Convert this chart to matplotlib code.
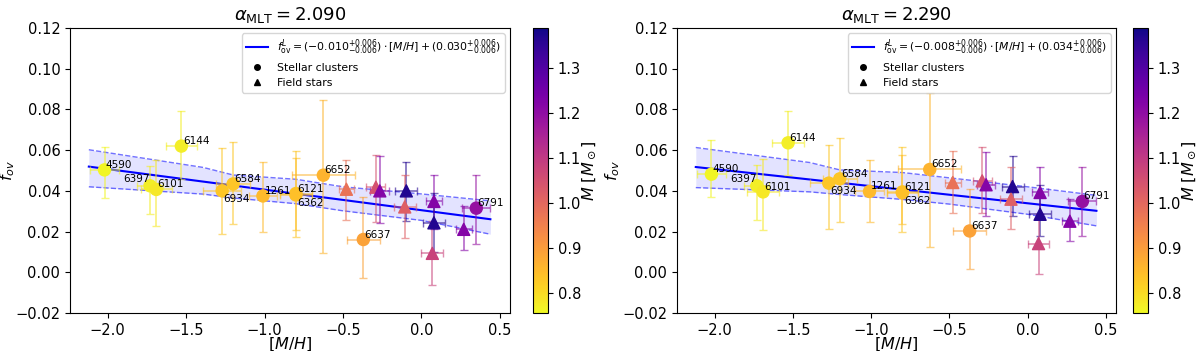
import matplotlib.pyplot as plt
import numpy as np
from matplotlib.colors import Normalize
from matplotlib.lines import Line2D

# Data
# stellar clusters
cl_names = ["4590", "6397", "6101", "6144", "6934", "6584", "1261", "6121", "6362", "6652", "6637", "6791"]
cl_mh = [-2.02, -1.73, -1.69, -1.53, -1.27, -1.20, -1.01, -0.80, -0.80, -0.625, -0.37, 0.35]
cl_mh_err = [0.09, 0.08, 0.10, 0.10, 0.12, 0.11, 0.09, 0.10, 0.10, 0.20, 0.105, 0.09]
cl_mass = [0.76, 0.77, 0.78, 0.77, 0.83, 0.83, 0.85, 0.83, 0.84, 0.86, 0.89, 1.19]

cl_f_a = [0.0503, 0.0425, 0.0407, 0.0620, 0.0400, 0.0434, 0.0375, 0.0387, 0.0380, 0.0477, 0.0161, 0.0315]
cl_up_a = [0.0613, 0.0523, 0.0550, 0.0790, 0.0610, 0.0638, 0.0544, 0.0595, 0.0560, 0.0848, 0.0370, 0.0479]
cl_lo_a = [0.0364, 0.0285, 0.0225, 0.0460, 0.0190, 0.0236, 0.0198, 0.0174, 0.0210, 0.0097, -0.0026, 0.0138]

cl_f_b = [0.0482, 0.0425, 0.0395, 0.0636, 0.0438, 0.0459, 0.0397, 0.0395, 0.0390, 0.0505, 0.0203, 0.0348]
cl_up_b = [0.0651, 0.0528, 0.0556, 0.0792, 0.0626, 0.0659, 0.0551, 0.0613, 0.0577, 0.0880, 0.0408, 0.0515]
cl_lo_b = [0.0370, 0.0257, 0.0207, 0.0479, 0.0211, 0.0249, 0.0248, 0.0198, 0.0236, 0.0125, 0.0015, 0.0179]

# field stars
fs_mh = [-0.478, -0.29, -0.265, -0.096, -0.106, 0.08, 0.08, 0.07, 0.27]
fs_mh_err = [0.05, 0.06, 0.06, 0.07, 0.07, 0.05, 0.07, 0.07, 0.05]
fs_mass = [0.98, 1.05, 1.22, 1.37, 1.02, 1.22, 1.37, 1.08, 1.22]

fs_f_a = [0.0408, 0.0418, 0.0400, 0.0400, 0.0321, 0.0348, 0.0243, 0.0093, 0.0211]
fs_up_a = [0.0552, 0.0577, 0.0569, 0.0543, 0.0480, 0.0477, 0.0389, 0.0252, 0.0326]
fs_lo_a = [0.0256, 0.0248, 0.0244, 0.0252, 0.0169, 0.0211, 0.0100, -0.0062, 0.0110]

fs_f_b = [0.0441, 0.0449, 0.0430, 0.0421, 0.0359, 0.0392, 0.0285, 0.0141, 0.0251]
fs_up_b = [0.0595, 0.0616, 0.0592, 0.0569, 0.0518, 0.0515, 0.0428, 0.0285, 0.0359]
fs_lo_b = [0.0289, 0.0293, 0.0277, 0.0277, 0.0211, 0.0285, 0.0180, -0.0010, 0.0154]

# fits
alphas = ["2.090", "2.290"]
slopes = [-0.0101, -0.0084]
intercepts = [0.0305, 0.0339]
slope_txt = ["-0.010", "-0.008"]
icpt_txt = ["0.030", "0.034"]

band_x = [-2.12, -1.39, -1.20, -0.80, -0.50, 0.0, 0.44]
band_up_a = [0.0602, 0.0515, 0.0478, 0.0457, 0.0420, 0.0385, 0.0351]
band_lo_a = [0.0420, 0.0384, 0.0365, 0.0337, 0.0302, 0.0255, 0.0187]
band_up_b = [0.0613, 0.0539, 0.0503, 0.0490, 0.0464, 0.0420, 0.0378]
band_lo_b = [0.0416, 0.0395, 0.0382, 0.0358, 0.0335, 0.0285, 0.0228]

# label placement (offset in points, ha, va)
lab_style = {"6397": (0, 1, "right", "bottom"), "6934": (1, -2, "left", "top"),
             "6362": (1, -2, "left", "top")}

cmap = plt.get_cmap("plasma_r")
norm = Normalize(vmin=0.755, vmax=1.39)

fig = plt.figure(figsize=(12, 3.51), dpi=100)
axes_pos = [[70/1200, 38/351, 440/1200, 285/351], [677/1200, 38/351, 439/1200, 285/351]]
cbar_pos = [[533/1200, 38/351, 15/1200, 285/351], [1133/1200, 38/351, 15/1200, 285/351]]

panels = [
    (cl_f_a, cl_up_a, cl_lo_a, fs_f_a, fs_up_a, fs_lo_a, band_up_a, band_lo_a),
    (cl_f_b, cl_up_b, cl_lo_b, fs_f_b, fs_up_b, fs_lo_b, band_up_b, band_lo_b),
]
ylab_x = [-0.12, -0.125]

for k, (cf, cu, clo, ff, fu, flo, bu, bl) in enumerate(panels):
    ax = fig.add_axes(axes_pos[k])
    # fit band
    ax.fill_between(band_x, bl, bu, color="blue", alpha=0.11, lw=0)
    ax.plot(band_x, bu, "--", color="blue", alpha=0.55, lw=1)
    ax.plot(band_x, bl, "--", color="blue", alpha=0.55, lw=1)
    xx = np.array([band_x[0], band_x[-1]])
    ax.plot(xx, slopes[k]*xx + intercepts[k], color="blue", lw=1.5)

    # error bars
    for x, xe, y, yu, yl, m in zip(cl_mh, cl_mh_err, cf, cu, clo, cl_mass):
        ax.errorbar(x, y, xerr=xe, yerr=[[y - yl], [yu - y]], fmt="none",
                    ecolor=cmap(norm(m)), alpha=0.6, capsize=3, lw=1.2)
    for x, xe, y, yu, yl, m in zip(fs_mh, fs_mh_err, ff, fu, flo, fs_mass):
        ax.errorbar(x, y, xerr=xe, yerr=[[y - yl], [yu - y]], fmt="none",
                    ecolor=cmap(norm(m)), alpha=0.6, capsize=3, lw=1.2)

    sc = ax.scatter(cl_mh, cf, c=cl_mass, cmap=cmap, norm=norm, marker="o", s=75, zorder=3)
    ax.scatter(fs_mh, ff, c=fs_mass, cmap=cmap, norm=norm, marker="^", s=75, zorder=3)

    for name, x, y in zip(cl_names, cl_mh, cf):
        dx, dy, ha, va = lab_style.get(name, (1, 0, "left", "bottom"))
        ax.annotate(name, (x, y), xytext=(dx, dy), textcoords="offset points",
                    ha=ha, va=va, fontsize=7.5, zorder=4)

    ax.set_xlim(-2.24, 0.565)
    ax.set_ylim(-0.02, 0.12)
    ax.set_xticks([-2.0, -1.5, -1.0, -0.5, 0.0, 0.5])
    ax.set_yticks(np.arange(-0.02, 0.121, 0.02))
    ax.tick_params(labelsize=10.5)
    ax.set_xlabel("$[M/H]$", fontsize=11.5)
    ax.xaxis.set_label_coords(0.5, -0.08)
    ax.set_ylabel("$f_{ov}$", fontsize=11.5)
    ax.yaxis.set_label_coords(ylab_x[k], 0.5)
    ax.set_title(r"$\alpha_{\rm MLT} = %s$" % alphas[k], fontsize=13)

    fit_lab = (r"$f_{\rm ov}^{L} = (%s^{+0.006}_{-0.006}) \cdot [M/H] + (%s^{+0.006}_{-0.006})$"
               % (slope_txt[k], icpt_txt[k]))
    handles = [Line2D([], [], color="blue", lw=1.5),
               Line2D([], [], color="black", marker="o", ls="none", markersize=4),
               Line2D([], [], color="black", marker="^", ls="none", markersize=4)]
    ax.legend(handles, [fit_lab, "Stellar clusters", "Field stars"], loc="upper right",
              fontsize=7.8)

    cax = fig.add_axes(cbar_pos[k])
    cb = fig.colorbar(sc, cax=cax)
    cb.set_ticks([0.8, 0.9, 1.0, 1.1, 1.2, 1.3])
    cb.ax.tick_params(labelsize=10.5)
    cb.set_label(r"$M\ [M_\odot]$", fontsize=11.5)
    cb.ax.yaxis.set_label_coords(3.13, 0.5)

plt.savefig("out.png", dpi=100)
